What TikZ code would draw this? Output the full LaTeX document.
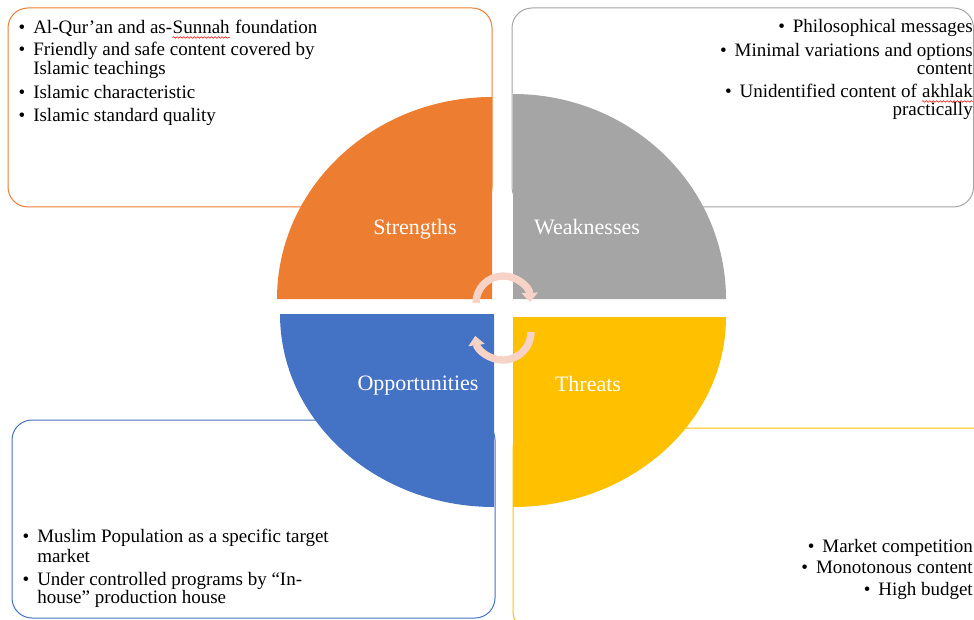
\documentclass[tikz,border=0pt]{standalone}
\usepackage{fontspec}
\setmainfont{Liberation Serif}
\usetikzlibrary{arrows.meta,decorations.pathmorphing}
\definecolor{cOrange}{HTML}{ED7D31}
\definecolor{cGray}{HTML}{A5A5A5}
\definecolor{cBlue}{HTML}{4472C4}
\definecolor{cYellow}{HTML}{FFC000}
\definecolor{cPeach}{HTML}{F6D3C6}
\tikzset{
  body/.style={font=\fontsize{14.25}{17}\selectfont, inner sep=0pt, text=black},
  bul/.style={body, anchor=base east, xshift=-5.5pt},
  lab/.style={font=\fontsize{16.5}{20}\selectfont, inner sep=0pt, text=white},
  tbox/.style={rounded corners=15pt, line width=0.75pt},
  cyc/.style={draw=cPeach, line width=5.5pt, -{Triangle[width=12pt,length=7pt]}},
  wavy/.style={draw=red, line width=0.4pt, decorate, decoration={snake, amplitude=0.6pt, segment length=2.6pt}},
}
\begin{document}
\begin{tikzpicture}[x=0.75pt,y=-0.75pt]
\useasboundingbox (0,0) rectangle (974,620);
\clip (0,0) rectangle (974,620);
% text boxes
\draw[tbox, draw=cOrange] (8,8) rectangle (492,207);
\draw[tbox, draw=cGray] (512,8) rectangle (973.5,207);
\draw[tbox, draw=cBlue] (12,420) rectangle (495,618);
\draw[tbox, draw=cYellow] (513,428) rectangle (993,632);
% quadrants
\fill[cOrange] (492,299) -- (277,299) arc[start angle=180, end angle=270, x radius=215, y radius=202] -- cycle;
\fill[cGray] (513,299) -- (513,94) arc[start angle=270, end angle=360, x radius=213, y radius=205] -- cycle;
\fill[cBlue] (494,314) -- (280,314) arc[start angle=180, end angle=90, x radius=214, y radius=193] -- cycle;
\fill[cYellow] (513,317) -- (726,317) arc[start angle=0, end angle=90, x radius=213, y radius=190] -- cycle;
% labels
\node[lab] (ls) at (415,229) {Strengths};
\node[lab] (lw) at (587,227) {Weaknesses};
\node[lab] (lo) at (418,386) {Opportunities};
\node[lab] (lt) at (588,384) {Threats};
% cycle arrows
\coordinate (c1s) at (476,303);
\coordinate (c2s) at (531,332);
\draw[cyc] (c1s) arc[start angle=180, end angle=358, radius=27];
\draw[cyc] (c2s) arc[start angle=0, end angle=172, radius=28];
% strengths
\node[body, anchor=base west] (s1) at (33,34) {Al-Qur’an and as-};
\node[body, anchor=base west] (s1w) at (s1.base east) {Sunnah};
\node[body, anchor=base west, xshift=3.56pt] (s1e) at (s1w.base east) {foundation};
\draw[wavy] ([yshift=-2.6pt]s1w.base west) -- ([yshift=-2.6pt]s1w.base east);
\node[body, anchor=base west] (s2) at (33,56) {Friendly and safe content covered by};
\node[body, anchor=base west] (s3) at (33,75) {Islamic teachings};
\node[body, anchor=base west] (s4) at (33,99) {Islamic characteristic};
\node[body, anchor=base west] (s5) at (33,122) {Islamic standard quality};
\node[bul] (sb1) at (s1.base west) {\textbullet};
\node[bul] (sb2) at (s2.base west) {\textbullet};
\node[bul] (sb4) at (s4.base west) {\textbullet};
\node[bul] (sb5) at (s5.base west) {\textbullet};
% weaknesses
\node[body, anchor=base east] (w1) at (973,33) {Philosophical messages};
\node[body, anchor=base east] (w2) at (973,57) {Minimal variations and options};
\node[body, anchor=base east] (w3) at (973,75) {content};
\node[body, anchor=base east] (w4w) at (973,98) {akhlak};
\node[body, anchor=base east, xshift=-3.56pt] (w4) at (w4w.base west) {Unidentified content of};
\draw[wavy] ([yshift=-2.6pt]w4w.base west) -- ([yshift=-2.6pt]w4w.base east);
\node[body, anchor=base east] (w5) at (973,116) {practically};
\node[bul] (wb1) at (w1.base west) {\textbullet};
\node[bul] (wb2) at (w2.base west) {\textbullet};
\node[bul] (wb4) at (w4.base west) {\textbullet};
% opportunities
\node[body, anchor=base west] (o1) at (37,542) {Muslim Population as a specific target};
\node[body, anchor=base west] (o2) at (37,562) {market};
\node[body, anchor=base west] (o3) at (37,585) {Under controlled programs by “In-};
\node[body, anchor=base west] (o4) at (37,603) {house” production house};
\node[bul] (ob1) at (o1.base west) {\textbullet};
\node[bul] (ob3) at (o3.base west) {\textbullet};
% threats
\node[body, anchor=base east] (r1) at (973,552) {Market competition};
\node[body, anchor=base east] (r2) at (973,573) {Monotonous content};
\node[body, anchor=base east] (r3) at (973,595) {High budget};
\node[bul] (rb1) at (r1.base west) {\textbullet};
\node[bul] (rb2) at (r2.base west) {\textbullet};
\node[bul] (rb3) at (r3.base west) {\textbullet};
\end{tikzpicture}
\end{document}
